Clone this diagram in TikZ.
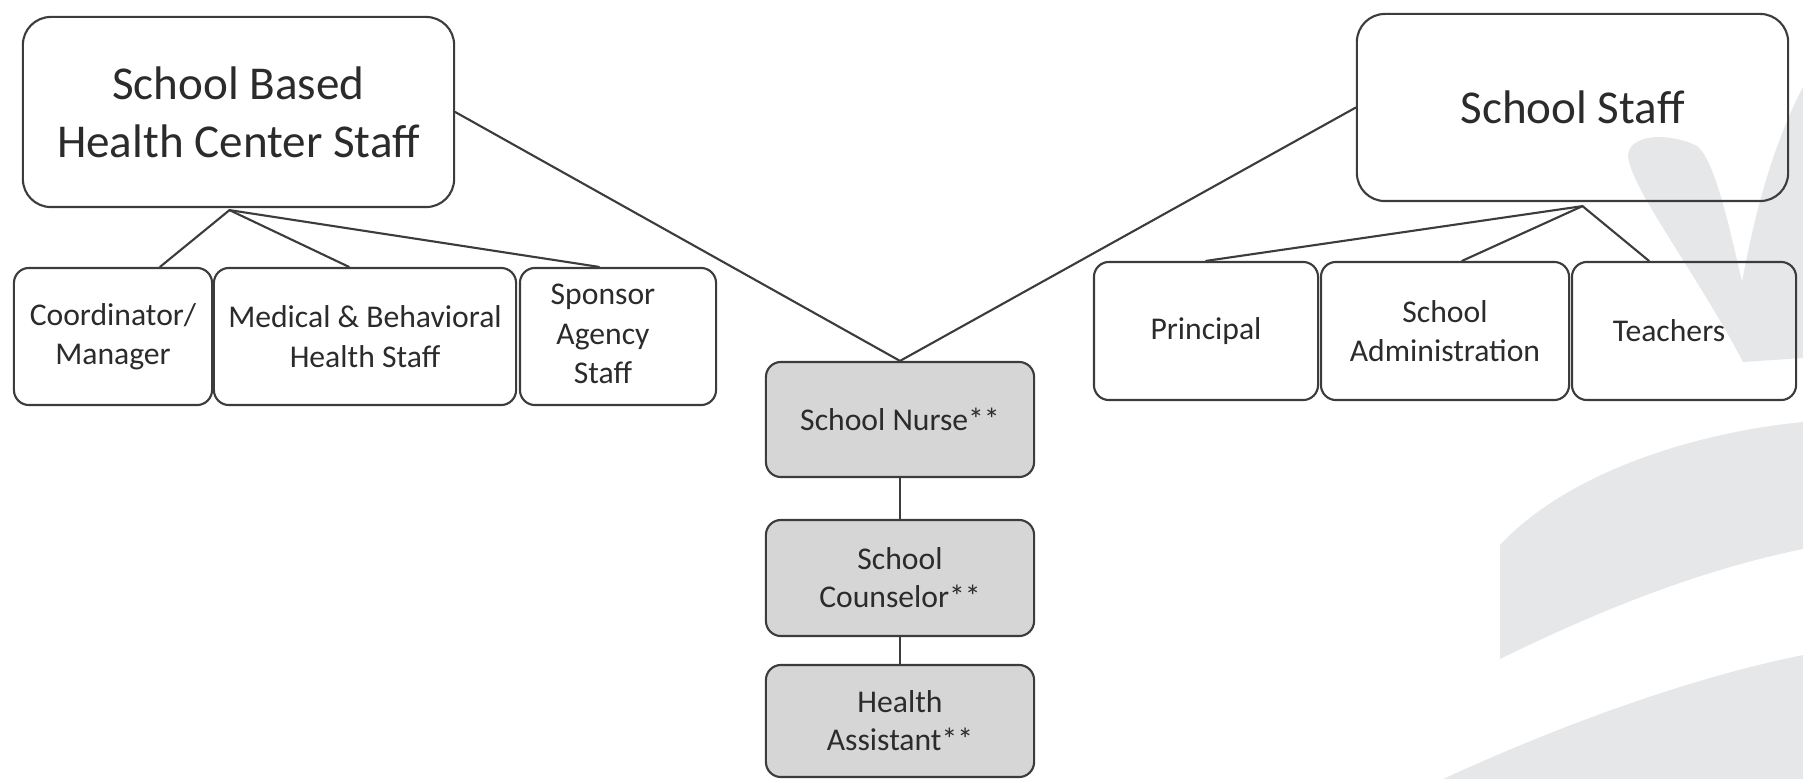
\documentclass[tikz,border=0pt]{standalone}
\usepackage{fontspec}
\setmainfont{Carlito}
\usetikzlibrary{calc}
\definecolor{boxline}{HTML}{3C3C3C}
\definecolor{nursegrey}{HTML}{D6D6D6}
\definecolor{markgrey}{HTML}{E6E7E8}
\definecolor{inkgrey}{HTML}{2B2B2B}
\begin{document}
\begin{tikzpicture}[x=0.01cm, y=-0.01cm, line join=round, line cap=round,
	box/.style={draw=boxline, line width=0.6pt, rounded corners=0.15cm, align=center, text=inkgrey, inner sep=2pt, font=\fontsize{9}{11.2}\selectfont},
	topbox/.style={box, rounded corners=0.28cm, minimum width=4.31cm, font=\fontsize{13.4}{16.4}\selectfont},
	greybox/.style={box, fill=nursegrey, minimum width=2.68cm, font=\fontsize{9}{10.8}\selectfont},
	link/.style={draw=boxline, line width=0.6pt}]
	\useasboundingbox (0,0) rectangle (1803,779);
	\fill[markgrey] (1743,362) .. controls (1700,280) and (1640,200) .. (1630,165) .. controls (1618,135) and (1665,130) .. (1697,146) .. controls (1715,160) and (1730,230) .. (1742,282) .. controls (1755,210) and (1775,140) .. (1803,87) -- (1803,358) -- cycle;
	\fill[markgrey] (1500,545) -- (1500,659) .. controls (1600,610) and (1700,570) .. (1803,549) -- (1803,422) .. controls (1700,432) and (1570,470) .. (1500,545) -- cycle;
	\fill[markgrey] (1443,779) .. controls (1550,730) and (1680,680) .. (1803,655) -- (1803,779) -- cycle;
	\node[topbox, minimum height=1.9cm] (sbhc) at (238.5,112) {School Based\\Health Center Staff};
	\node[topbox, minimum height=1.87cm] (staff) at (1572.5,107.5) {School Staff};
	\node[box, minimum width=1.98cm, minimum height=1.37cm] (coord) at (113,336.5) {Coordinator/\\Manager};
	\node[box, minimum width=3.02cm, minimum height=1.37cm] (medical) at (365,336.5) {Medical \& Behavioral\\Health Staff};
	\node[box, minimum width=1.96cm, minimum height=1.37cm] (sponsor) at (618,336.5) {\begin{tabular}{@{}c@{}}Sponsor\\Agency\\Staff\end{tabular}\hspace*{0.3cm}};
	\node[box, minimum width=2.24cm, minimum height=1.38cm] (principal) at (1206,331) {Principal};
	\node[box, minimum width=2.48cm, minimum height=1.38cm] (admin) at (1445,331) {School\\Administration};
	\node[box, minimum width=2.24cm, minimum height=1.38cm] (teachers) at (1684,331) {Teachers\hspace*{0.3cm}};
	\node[greybox, minimum height=1.15cm] (nurse) at (900,419.5) {School Nurse**};
	\node[greybox, minimum height=1.16cm] (counselor) at (900,578) {School\\Counselor**};
	\node[greybox, minimum height=1.12cm] (assistant) at (900,721) {Health\\Assistant**};
	\coordinate (sbhcjoin) at ($(sbhc.south)+(-9,2)$);
	\coordinate (staffjoin) at ($(staff.south)+(10,4)$);
	\draw[link] (sbhcjoin)--($(coord.north)+(47,0)$);
	\draw[link] (sbhcjoin)--($(medical.north)+(-16,0)$);
	\draw[link] (sbhcjoin)--($(sponsor.north)+(-19,0)$);
	\draw[link] (staffjoin)--(principal.north);
	\draw[link] (staffjoin)--($(admin.north)+(17,0)$);
	\draw[link] (staffjoin)--($(teachers.north)+(-35,0)$);
	\draw[link] (sbhc.east)--(nurse.north)--(staff.west);
	\draw[link] (nurse.south)--(counselor.north);
	\draw[link] (counselor.south)--(assistant.north);
\end{tikzpicture}
\end{document}
